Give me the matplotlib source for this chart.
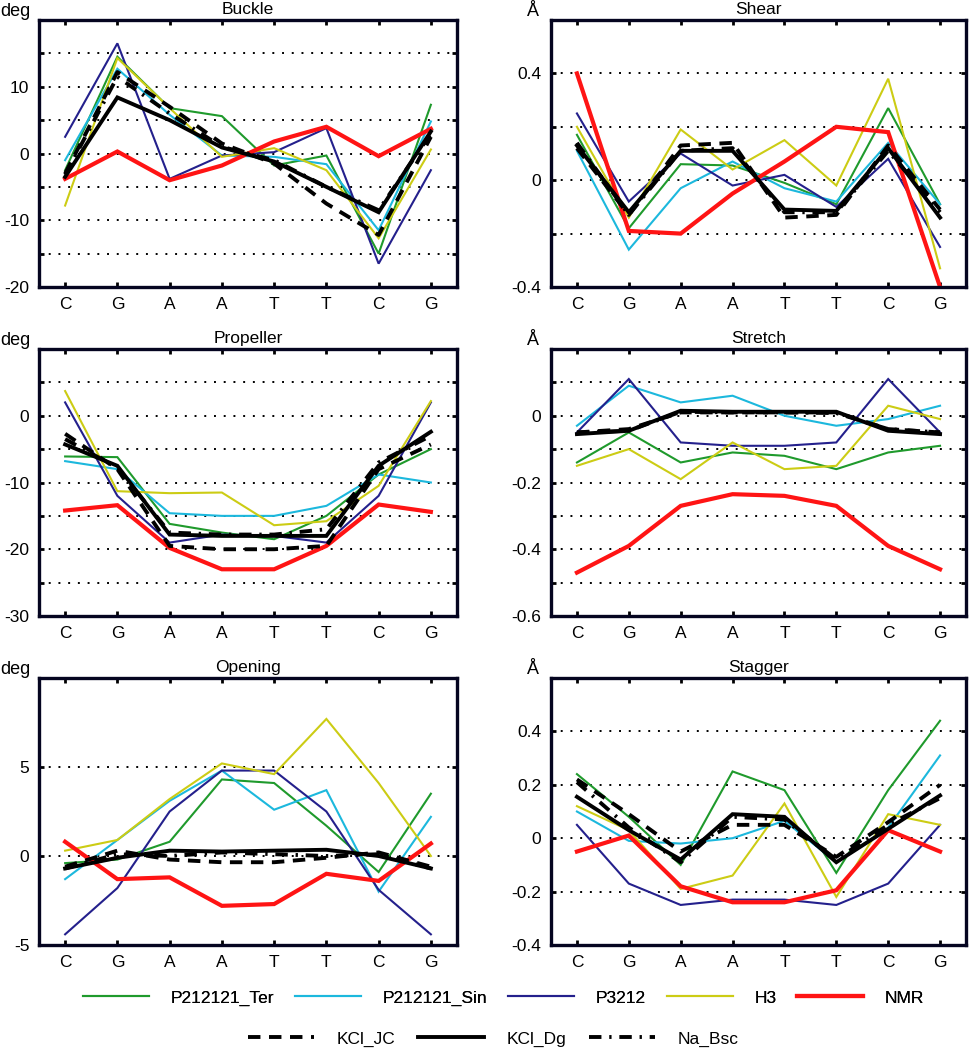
import matplotlib
matplotlib.use("Agg")
import matplotlib.pyplot as plt
from matplotlib.lines import Line2D

plt.rcParams['font.family'] = ['Liberation Sans', 'DejaVu Sans']

bases = ['C', 'G', 'A', 'A', 'T', 'T', 'C', 'G']
series_names = ['P212121_Ter', 'P212121_Sin', 'P3212', 'H3', 'NMR', 'KCl_JC', 'KCl_Dg', 'Na_Bsc']

# ---- Buckle (deg)
buckle_ter = [-2.5, 14.5, 6.8, 5.6, -1.8, -0.3, -15.0, 7.3]
buckle_sin = [-1.0, 12.7, 5.8, -0.3, -0.5, -1.6, -11.5, 4.8]
buckle_p3212 = [2.5, 16.5, -3.8, -0.3, 0.2, 3.8, -16.5, -2.5]
buckle_h3 = [-7.8, 14.3, 6.8, -0.5, 0.8, -2.5, -12.7, 0.6]
buckle_nmr = [-3.8, 0.3, -4.0, -1.8, 1.8, 4.0, -0.4, 3.7]
buckle_jc = [-3.0, 12.2, 7.0, 1.5, -1.5, -7.5, -12.2, 2.5]
buckle_dg = [-3.5, 8.4, 5.0, 0.9, -1.2, -5.0, -8.8, 3.3]
buckle_bsc = [-3.2, 11.5, 6.0, 1.0, -1.0, -5.0, -8.5, 3.0]

# ---- Shear (A)
shear_ter = [0.17, -0.18, 0.06, 0.055, -0.01, -0.09, 0.27, -0.09]
shear_sin = [0.11, -0.26, -0.03, 0.07, -0.03, -0.08, 0.14, -0.09]
shear_p3212 = [0.25, -0.08, 0.10, -0.02, 0.02, -0.10, 0.08, -0.25]
shear_h3 = [0.20, -0.14, 0.19, 0.04, 0.15, -0.02, 0.38, -0.33]
shear_nmr = [0.40, -0.19, -0.20, -0.05, 0.07, 0.20, 0.18, -0.40]
shear_jc = [0.12, -0.13, 0.13, 0.14, -0.14, -0.13, 0.13, -0.11]
shear_dg = [0.13, -0.12, 0.11, 0.11, -0.11, -0.115, 0.12, -0.14]
shear_bsc = [0.14, -0.13, 0.11, 0.12, -0.12, -0.12, 0.11, -0.12]

# ---- Propeller (deg)
prop_ter = [-6.1, -6.2, -16.2, -17.5, -18.5, -15.0, -8.8, -5.0]
prop_sin = [-6.8, -8.0, -14.6, -15.0, -15.0, -13.5, -8.8, -10.0]
prop_p3212 = [2.0, -12.0, -19.0, -17.8, -18.0, -19.0, -12.0, 2.0]
prop_h3 = [3.7, -11.3, -11.6, -11.5, -16.4, -15.8, -10.5, 2.2]
prop_nmr = [-14.2, -13.4, -19.8, -23.0, -23.0, -19.5, -13.3, -14.4]
prop_jc = [-2.7, -8.0, -19.5, -20.0, -20.0, -19.5, -8.0, -4.3]
prop_dg = [-4.3, -7.5, -17.8, -18.0, -18.0, -18.0, -7.5, -2.4]
prop_bsc = [-3.5, -7.8, -17.5, -17.8, -17.8, -17.0, -7.0, -3.0]

# ---- Stretch (A)
stretch_ter = [-0.14, -0.05, -0.14, -0.11, -0.12, -0.16, -0.11, -0.09]
stretch_sin = [-0.03, 0.09, 0.04, 0.06, 0.00, -0.03, -0.01, 0.03]
stretch_p3212 = [-0.05, 0.11, -0.08, -0.09, -0.09, -0.08, 0.11, -0.05]
stretch_h3 = [-0.15, -0.10, -0.19, -0.08, -0.16, -0.15, 0.03, -0.01]
stretch_nmr = [-0.47, -0.39, -0.27, -0.235, -0.24, -0.27, -0.39, -0.46]
stretch_jc = [-0.05, -0.04, 0.01, 0.01, 0.01, 0.01, -0.04, -0.05]
stretch_dg = [-0.055, -0.045, 0.015, 0.012, 0.012, 0.012, -0.045, -0.055]
stretch_bsc = [-0.05, -0.045, 0.012, 0.01, 0.01, 0.008, -0.04, -0.05]

# ---- Opening (deg)
open_ter = [-0.4, -0.2, 0.8, 4.3, 4.1, 1.7, -0.9, 3.5]
open_sin = [-1.3, 0.9, 3.1, 4.8, 2.6, 3.7, -2.0, 2.2]
open_p3212 = [-4.4, -1.8, 2.5, 4.8, 4.8, 2.5, -1.9, -4.4]
open_h3 = [0.3, 0.9, 3.2, 5.2, 4.6, 7.7, 4.1, 0.0]
open_nmr = [0.8, -1.3, -1.2, -2.8, -2.7, -1.0, -1.4, 0.7]
open_jc = [-0.6, 0.3, -0.2, -0.35, -0.35, -0.1, 0.2, -0.6]
open_dg = [-0.7, -0.1, 0.3, 0.25, 0.3, 0.35, 0.0, -0.7]
open_bsc = [-0.7, 0.1, 0.0, 0.2, 0.1, 0.0, 0.1, -0.7]

# ---- Stagger (A)
stag_ter = [0.24, 0.08, -0.10, 0.25, 0.18, -0.13, 0.18, 0.44]
stag_sin = [0.10, -0.01, -0.02, 0.00, 0.065, -0.09, 0.04, 0.31]
stag_p3212 = [0.05, -0.17, -0.25, -0.23, -0.23, -0.25, -0.17, 0.05]
stag_h3 = [0.12, 0.03, -0.19, -0.14, 0.13, -0.22, 0.09, 0.05]
stag_nmr = [-0.05, 0.01, -0.18, -0.24, -0.24, -0.195, 0.03, -0.05]
stag_jc = [0.22, 0.09, -0.05, 0.05, 0.05, -0.07, 0.06, 0.20]
stag_dg = [0.155, 0.03, -0.08, 0.09, 0.08, -0.09, 0.035, 0.16]
stag_bsc = [0.21, 0.04, -0.09, 0.08, 0.07, -0.08, 0.05, 0.15]

titles = ['Buckle', 'Shear', 'Propeller', 'Stretch', 'Opening', 'Stagger']
units = ['deg', 'Å', 'deg', 'Å', 'deg', 'Å']
ylims = [(-20, 20), (-0.4, 0.6), (-30, 10), (-0.6, 0.2), (-5, 10), (-0.4, 0.6)]
yticks = [[-20, -15, -10, -5, 0, 5, 10, 15, 20],
          [-0.4, -0.2, 0, 0.2, 0.4, 0.6],
          [-30, -25, -20, -15, -10, -5, 0, 5, 10],
          [-0.6, -0.5, -0.4, -0.3, -0.2, -0.1, 0, 0.1, 0.2],
          [-5, 0, 5, 10],
          [-0.4, -0.2, 0, 0.2, 0.4, 0.6]]
yticklabels = [['-20', '', '-10', '', '0', '', '10', '', ''],
               ['-0.4', '', '0', '', '0.4', ''],
               ['-30', '', '-20', '', '-10', '', '0', '', ''],
               ['-0.6', '', '-0.4', '', '-0.2', '', '0', '', ''],
               ['-5', '0', '5', ''],
               ['-0.4', '-0.2', '0', '0.2', '0.4', '']]

panel_data = [
    [buckle_ter, buckle_sin, buckle_p3212, buckle_h3, buckle_nmr, buckle_jc, buckle_dg, buckle_bsc],
    [shear_ter, shear_sin, shear_p3212, shear_h3, shear_nmr, shear_jc, shear_dg, shear_bsc],
    [prop_ter, prop_sin, prop_p3212, prop_h3, prop_nmr, prop_jc, prop_dg, prop_bsc],
    [stretch_ter, stretch_sin, stretch_p3212, stretch_h3, stretch_nmr, stretch_jc, stretch_dg, stretch_bsc],
    [open_ter, open_sin, open_p3212, open_h3, open_nmr, open_jc, open_dg, open_bsc],
    [stag_ter, stag_sin, stag_p3212, stag_h3, stag_nmr, stag_jc, stag_dg, stag_bsc],
]

colors = ['#1f9a2c', '#1cb8dd', '#24208c', '#cccc14', '#ff1414', 'black', 'black', 'black']
widths = [1.5, 1.5, 1.5, 1.5, 3.0, 2.8, 2.8, 2.8]
styles = ['-', '-', '-', '-', '-', (0, (3.2, 2.2)), '-', (0, (3.2, 2.0, 0.6, 2.0))]

W, H = 971, 1050
fig = plt.figure(figsize=(W / 100, H / 100), dpi=100)

col_left = [39, 551]
col_width = [418, 415]
row_top = [20, 349, 678]
row_h = 267

x = list(range(len(bases)))
axes = []
for i in range(6):
    r, c = divmod(i, 2)
    l = col_left[c] / W
    b = 1 - (row_top[r] + row_h) / H
    ax = fig.add_axes([l, b, col_width[c] / W, row_h / H])
    axes.append(ax)
    for s in range(8):
        ax.plot(x, panel_data[i][s], color=colors[s], lw=widths[s], ls=styles[s],
                label=series_names[s], solid_joinstyle='miter')
    ax.set_xlim(-0.5, 7.5)
    ax.set_ylim(*ylims[i])
    ax.set_xticks(x)
    ax.set_xticklabels(bases, fontsize=12.5)
    ax.set_yticks(yticks[i])
    ax.set_yticklabels(yticklabels[i], fontsize=12.5)
    ax.tick_params(axis='both', direction='in', length=3.5, width=2,
                   top=True, right=True, pad=7)
    ax.yaxis.grid(True, color='black', linestyle=(0, (1, 4)), lw=1.4)
    ax.xaxis.grid(False)
    for sp in ax.spines.values():
        sp.set_linewidth(2.4)
        sp.set_color('#050520')
    ax.set_title(titles[i], fontsize=12.5, pad=4)
    if c == 0:
        ax.text(-39 / col_width[c], 1.03, units[i], transform=ax.transAxes,
                fontsize=13, ha='left', va='center')
    else:
        ax.text(-18 / col_width[c], 1.03, units[i], transform=ax.transAxes,
                fontsize=13, ha='center', va='center')

handles = [Line2D([], [], color=colors[s], lw=widths[s], ls=styles[s]) for s in range(8)]
leg1 = fig.legend(handles[:5], series_names[:5], loc='center', ncol=5,
                  bbox_to_anchor=(503.5 / W, 1 - 998 / H), frameon=False,
                  fontsize=12.5, handlelength=3.8, handletextpad=1.25,
                  columnspacing=1.2)
leg2 = fig.legend(handles[5:], series_names[5:], loc='center', ncol=3,
                  bbox_to_anchor=(493.5 / W, 1 - 1039 / H), frameon=False,
                  fontsize=12.5, handlelength=3.8, handletextpad=1.3,
                  columnspacing=1.3)
fig.add_artist(leg1)

fig.savefig('out.png', dpi=100)
